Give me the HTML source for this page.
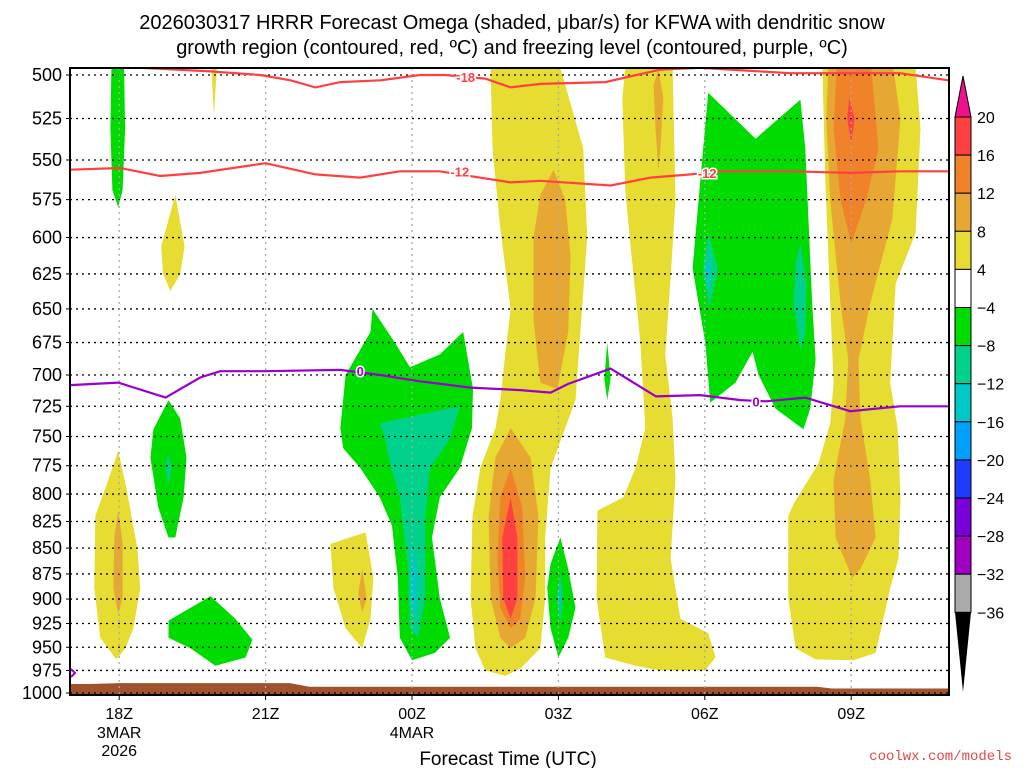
<!DOCTYPE html>
<html><head><meta charset="utf-8"><style>
html,body{margin:0;padding:0;background:#fff;width:1024px;height:768px;overflow:hidden}
svg{display:block;font-family:"Liberation Sans",sans-serif}
</style></head><body>
<svg id="chart" width="1024" height="768" viewBox="0 0 1024 768">
<text x="512" y="29" text-anchor="middle" font-size="20">2026030317 HRRR Forecast Omega (shaded, μbar/s) for KFWA with dendritic snow</text>
<text x="512" y="54" text-anchor="middle" font-size="20">growth region (contoured, red, ºC) and freezing level (contoured, purple, ºC)</text>
<g id="plot"></g>
<g id="axes"></g>
<g id="cbar"></g>
<text x="508" y="765" text-anchor="middle" font-size="19">Forecast Time (UTC)</text>
<text x="1012" y="760" text-anchor="end" font-size="14" fill="#e04848" font-family="Liberation Mono, monospace">coolwx.com/models</text>
</svg>
<script>
const pTicks=[500,525,550,575,600,625,650,675,700,725,750,775,800,825,850,875,900,925,950,975,1000];
const hourTicks=[18,21,24,27,30,33];
const hourLabels=["18Z","21Z","00Z","03Z","06Z","09Z"];
const dateLabels=[["3MAR","2026"],[],["4MAR"],[],[],[]];
const cbLevels=[20,16,12,8,4,-4,-8,-12,-16,-20,-24,-28,-32,-36];
const cbColors=["#ff4040","#f0822a","#e6a832","#e6dc32","#ffffff","#00dc00","#00d28c","#00c8c8","#00a0ff","#1e3cff","#7800d8","#a000c0","#aaaaaa"];
const C={y:"#e6dc32",o:"#e6a832",o2:"#f0822a",r:"#ff4040",g:"#00dc00",t:"#00d28c",c:"#00c8c8"};
// shaded omega regions: [colorKey, [[hour, hPa],...]]
const shapes=[
["g",[[17.96,496],[18.1,496],[18.12,531],[18.07,569],[17.98,580],[17.86,569],[17.82,531],[17.84,496]]],
["y",[[19.89,496],[20.0,496],[19.94,523]]],
["y",[[19.15,572],[19.34,606],[19.25,625],[19.05,637],[18.9,625],[18.86,606]]],
["y",[[17.98,762],[18.15,795],[18.37,850],[18.43,889],[18.29,930],[18.13,951],[17.94,963],[17.61,940],[17.49,889],[17.51,820],[17.78,787]]],
["o",[[17.98,815],[18.07,845],[18.07,899],[17.98,915],[17.88,889],[17.9,840]]],
["g",[[19.01,720],[19.25,735],[19.38,768],[19.32,803],[19.15,840],[19.01,840],[18.8,812],[18.64,768],[18.7,744]]],
["t",[[19.01,764],[19.07,777],[19.01,792],[18.95,777]]],
["g",[[19.01,922],[19.87,897],[20.38,920],[20.73,942],[20.59,961],[19.97,970],[19.46,951],[19.01,940]]],
["y",[[22.33,846],[23.05,835],[23.21,879],[23.15,920],[22.98,951],[22.64,930],[22.39,889]]],
["o",[[22.98,870],[23.07,899],[22.98,914],[22.9,894]]],
["g",[[22.53,743],[22.64,700],[23.15,667],[23.19,650],[23.65,675],[23.96,694],[24.57,684],[25.05,667],[25.25,711],[25.23,743],[24.98,777],[24.57,803],[24.41,840],[24.57,899],[24.78,940],[24.47,956],[24,964],[23.75,940],[23.71,879],[23.59,829],[23.34,803],[22.94,777],[22.59,760]]],
["t",[[23.34,739],[24.98,725],[24.78,752],[24.37,777],[24.27,820],[24.27,899],[24.12,940],[23.96,930],[23.92,870],[23.75,803],[23.55,773],[23.45,752]]],
["c",[[24,846],[24.12,879],[24.06,920],[23.96,899]]],
["y",[[25.61,496],[25.65,543],[25.81,594],[26.02,650],[25.91,684],[25.81,720],[25.71,743],[25.4,777],[25.24,820],[25.2,899],[25.3,951],[25.5,975],[25.91,981],[26.22,973],[26.63,951],[26.73,899],[26.73,840],[26.84,777],[27.14,743],[27.35,720],[27.45,667],[27.59,600],[27.51,543],[27.04,496]]],
["o",[[26.9,556],[27.14,575],[27.25,613],[27.2,667],[26.98,711],[26.63,706],[26.49,658],[26.49,600],[26.63,572]]],
["o",[[26.02,743],[26.43,768],[26.59,820],[26.53,899],[26.32,940],[26.02,951],[25.81,940],[25.61,899],[25.57,820],[25.71,768]]],
["o2",[[26.02,777],[26.26,812],[26.32,879],[26.22,920],[26.02,930],[25.81,909],[25.75,860],[25.81,803]]],
["r",[[26.02,803],[26.16,840],[26.16,899],[26.02,920],[25.87,899],[25.85,840]]],
["g",[[27.04,840],[27.2,870],[27.35,909],[27.2,940],[27,961],[26.84,930],[26.77,889],[26.84,865]]],
["t",[[27.04,875],[27.1,899],[27.04,925],[26.96,899]]],
["g",[[28,675],[28.07,703],[28,720],[27.94,703]]],
["y",[[28.37,496],[28.31,513],[28.37,569],[28.48,606],[28.68,675],[28.78,743],[28.58,777],[28.33,803],[27.8,815],[27.78,899],[27.96,961],[28.58,970],[29.09,975],[30.01,975],[30.22,961],[30.07,935],[29.5,920],[29.3,860],[29.4,787],[29.34,735],[29.19,684],[29.3,628],[29.4,575],[29.34,496]]],
["o",[[29.05,497],[29.15,513],[29.09,543],[29.05,556],[28.99,531],[28.95,506]]],
["g",[[30.07,510],[31.04,537],[31.96,514],[32.06,543],[32.2,646],[32.27,688],[32.16,727],[32.02,744],[31.45,727],[31.1,700],[30.98,682],[30.63,706],[30.11,722],[30.01,675],[29.75,621],[29.91,562]]],
["t",[[30.07,597],[30.26,621],[30.09,650],[29.97,621]]],
["c",[[30.07,612],[30.13,625],[30.07,637],[30.01,625]]],
["t",[[31.96,604],[32.08,631],[32.06,667],[31.96,681],[31.82,646],[31.86,618]]],
["y",[[32.41,496],[32.47,562],[32.57,646],[32.64,706],[32.57,739],[32.33,773],[31.82,809],[31.71,820],[31.71,899],[31.86,951],[32.27,963],[33.05,964],[33.5,956],[33.66,920],[33.8,889],[33.97,860],[34.01,803],[33.95,743],[33.8,706],[33.91,632],[34.32,597],[34.42,531],[34.32,496]]],
["o",[[32.53,496],[33.86,496],[34.01,525],[33.84,588],[33.39,646],[33.15,688],[33.19,735],[33.39,787],[33.5,840],[33.19,870],[33.02,879],[32.68,840],[32.64,787],[32.88,735],[32.94,688],[32.78,646],[32.57,575],[32.49,525]]],
["o2",[[32.7,496],[33.41,496],[33.56,543],[33.31,575],[33.0,604],[32.78,575],[32.64,531]]],
["r",[[32.96,513],[33.07,525],[33.0,540],[32.92,525]]]
];
const line18=[[18.43,496],[19.87,498],[20.89,500],[21.51,503],[22.02,507],[22.53,504],[23.35,503],[24.16,500],[24.68,500],[25.5,502],[26.02,507],[26.63,505],[27.96,504],[29.09,497],[29.91,496],[30.52,497],[31.75,499],[32.98,499],[34.0,499],[34.99,503]];
const line12=[[17,556],[18.02,555],[18.84,560],[19.66,558],[21,552],[22.02,559],[22.94,561],[23.75,557],[24.57,557],[26.02,564],[26.63,563],[28.07,566],[28.89,561],[29.71,559],[30.32,557],[31.75,557],[32.98,558],[34,557],[35,557]];
const line0=[[17,708],[17.98,706],[18.95,718],[19.66,702],[20.07,697],[21,697],[22.53,696],[23.35,700],[24.16,705],[25.2,710],[26.22,712],[26.84,714],[27.2,707],[28.07,695],[29.0,717],[29.91,716],[30.73,720],[31.25,721],[32.06,718],[32.98,729],[34,725],[35,725]];
const labels18=[[25.1,501]];
const labels12=[[24.98,557],[30.05,558]];
const labels0=[[22.94,697],[31.05,721]];
const terrainHours=[17,17.4,18,21.5,21.9,32.3,32.6,35];
const terrainP=[990,990,989,989,993,993,995,995];

const X0=70,X1=949,Y0=68,Y1=695;
const xs=h=>412+(h-24)*48.8;
const ys=p=>75+Math.log(p/500)/Math.LN2*618;
const NS="http://www.w3.org/2000/svg";
function mk(tag,attrs,parent){const e=document.createElementNS(NS,tag);for(const k in attrs)e.setAttribute(k,attrs[k]);parent.appendChild(e);return e;}
const plot=document.getElementById('plot'),axes=document.getElementById('axes'),cb=document.getElementById('cbar');
const defs=mk('defs',{},plot);const cp=mk('clipPath',{id:'clip'},defs);mk('rect',{x:X0,y:Y0,width:X1-X0,height:Y1-Y0},cp);
const g=mk('g',{'clip-path':'url(#clip)'},plot);
shapes.forEach((s,i)=>{
 const el=mk('polygon',{points:s[1].map(q=>xs(q[0]).toFixed(1)+','+ys(q[1]).toFixed(1)).join(' '),fill:C[s[0]]},g);
 
 
});
// terrain
{let pts=terrainHours.map((h,i)=>xs(h).toFixed(1)+','+ys(terrainP[i]).toFixed(1));
 pts.push(xs(35)+','+Y1,xs(17)+','+Y1);
 const el=mk('polygon',{points:pts.join(' '),fill:'#a0522d'},g);
 
 }
// grid
pTicks.forEach(p=>{const y=ys(p);
 const l=mk('line',{x1:X0,x2:X1,y1:y,y2:y,stroke:'#000','stroke-width':1.3,'stroke-dasharray':'2 4'},g);
 
 });
hourTicks.forEach(h=>{const x=xs(h);
 const l=mk('line',{x1:x,x2:x,y1:Y0,y2:Y1,stroke:'#aaa','stroke-width':1.3,'stroke-dasharray':'2 4'},g);
 
 });
function contour(data,col,name,labs,txt){
 const el=mk('polyline',{points:data.map(q=>xs(q[0]).toFixed(1)+','+ys(q[1]).toFixed(1)).join(' '),fill:'none',stroke:col,'stroke-width':2.2},g);
 
 
 labs.forEach(q=>{const x=xs(q[0]),y=ys(q[1]);
  mk('rect',{x:x-14,y:y-7,width:28,height:14,fill:'#fff',opacity:0},g);
  const t=mk('text',{x:x,y:y+5,'text-anchor':'middle','font-size':13,'font-weight':'bold',fill:col,stroke:'#fff','stroke-width':3,'paint-order':'stroke'},g);
  t.textContent=txt;
  
  });
}
contour(line18,'#ff4040','contour-minus18',labels18,'-18');
contour(line12,'#ff4040','contour-minus12',labels12,'-12');
contour(line0,'#9900cc','freezing-level-0',labels0,'0');
mk('polyline',{points:'71,669 75,673 71,677',fill:'none',stroke:'#9900cc','stroke-width':2},plot);
// frame
const fr=mk('rect',{x:X0,y:Y0,width:X1-X0,height:Y1-Y0,fill:'none',stroke:'#000','stroke-width':2},axes);


pTicks.forEach(p=>{const y=ys(p);
 mk('line',{x1:X0-4,x2:X0,y1:y,y2:y,stroke:'#000'},axes);
 const t=mk('text',{x:X0-8,y:y+6,'text-anchor':'end','font-size':18},axes);t.textContent=p;
 
 });
hourTicks.forEach((h,i)=>{const x=xs(h);
 mk('line',{x1:x,x2:x,y1:Y1,y2:Y1+5,stroke:'#000'},axes);
 const t=mk('text',{x:x,y:719,'text-anchor':'middle','font-size':16},axes);t.textContent=hourLabels[i];
 
 
 dateLabels[i].forEach((d,j)=>{const u=mk('text',{x:x,y:738+j*18,'text-anchor':'middle','font-size':16},axes);u.textContent=d;
  
  });});
// colorbar
const cx=955,cw=16,cTop=117,bh=38.1;
mk('polygon',{points:`${cx},${cTop} ${cx+cw},${cTop} ${cx+cw/2},76`,fill:'#f0108c',stroke:'#000'},cb);
cbColors.forEach((c,i)=>{const r=mk('rect',{x:cx,y:cTop+i*bh,width:cw,height:bh,fill:c,stroke:'#000','stroke-width':1},cb);
 
 });
const cBot=cTop+cbColors.length*bh;
mk('polygon',{points:`${cx},${cBot} ${cx+cw},${cBot} ${cx+cw/2},692`,fill:'#000'},cb);
cbLevels.forEach((v,i)=>{const t=mk('text',{x:cx+22,y:cTop+i*bh+6,'font-size':16},cb);t.textContent=v<0?'\u2212'+(-v):v;
 
 });
</script>
</body></html>
